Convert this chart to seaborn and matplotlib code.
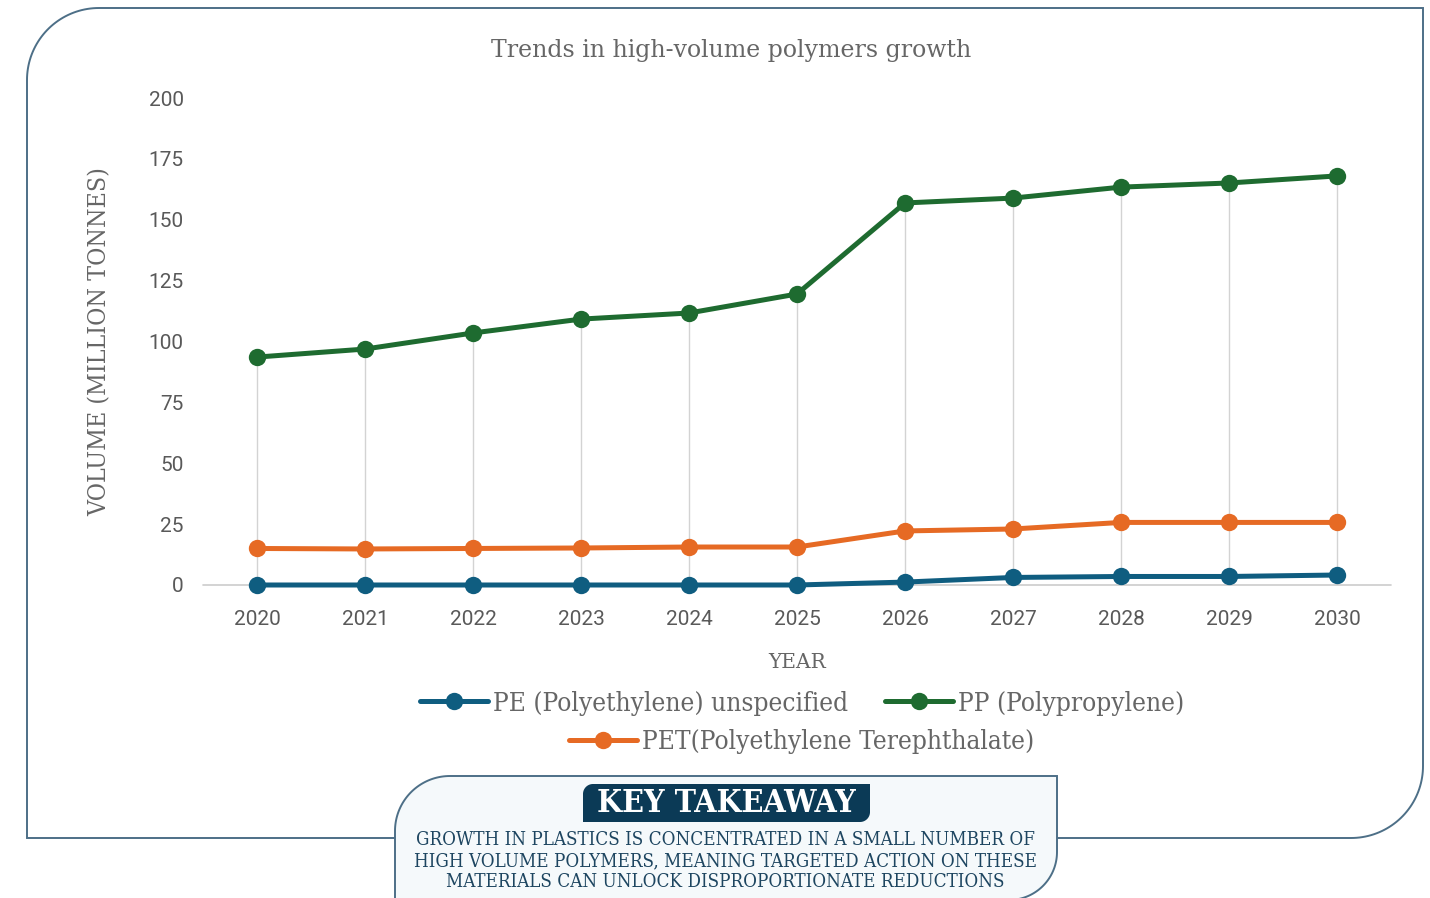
import numpy as np
import pandas as pd
import matplotlib.pyplot as plt
import seaborn as sns
from matplotlib.lines import Line2D
from matplotlib.patches import Polygon

# Données
years = [2020, 2021, 2022, 2023, 2024, 2025, 2026, 2027, 2028, 2029, 2030]
pe = [0, 0, 0, 0, 0, 0, 1.2, 3.1, 3.5, 3.5, 4.1]
pp = [93.6, 96.9, 103.5, 109.2, 111.7, 119.5, 156.9, 158.9, 163.4, 165.1, 168.0]
pet = [15.0, 14.8, 15.0, 15.2, 15.6, 15.6, 22.2, 23.0, 25.7, 25.7, 25.7]

series_names = ['PE (Polyethylene) unspecified', 'PP (Polypropylene)',
                'PET(Polyethylene Terephthalate)']
colors = ['#0f5d80', '#1e6b30', '#e66a24']
yticks = [0, 25, 50, 75, 100, 125, 150, 175, 200]

title = 'Trends in high-volume polymers growth'
takeaway = ('GROWTH IN PLASTICS IS CONCENTRATED IN A SMALL NUMBER OF\n'
            'HIGH VOLUME POLYMERS, MEANING TARGETED ACTION ON THESE\n'
            'MATERIALS CAN UNLOCK DISPROPORTIONATE REDUCTIONS')

df = pd.DataFrame({
    'year': years * 3,
    'value': pe + pp + pet,
    'series': [series_names[0]] * len(years) + [series_names[1]] * len(years)
              + [series_names[2]] * len(years),
})

W, H = 1430, 898
SERIF = 'DejaVu Serif'
EDGE = '#4d6f87'
GRAY = '#666666'

sns.set_theme(style='white')
fig = plt.figure(figsize=(W / 100, H / 100), dpi=100)


def fx(x):
    return x / W


def fy(y):
    return 1 - y / H


def corner_box(x0, y0, x1, y1, r_tl, r_br, n=40):
    # boîte avec coin haut-gauche et bas-droit arrondis (pixels, y vers le bas)
    pts = []
    a = np.linspace(np.pi, 1.5 * np.pi, n)
    pts += list(zip(x0 + r_tl + r_tl * np.cos(a), y0 + r_tl + r_tl * np.sin(a)))
    pts.append((x1, y0))
    a = np.linspace(0, 0.5 * np.pi, n)
    pts += list(zip(x1 - r_br + r_br * np.cos(a), y1 - r_br + r_br * np.sin(a)))
    pts.append((x0, y1))
    return [(fx(x), fy(y)) for x, y in pts]


def add_box(x0, y0, x1, y1, r_tl, r_br, fc, ec, z):
    p = Polygon(corner_box(x0, y0, x1, y1, r_tl, r_br), closed=True,
                facecolor=fc, edgecolor=ec if ec else 'none', lw=1.4,
                transform=fig.transFigure, zorder=z)
    fig.patches.append(p)


# cadre extérieur
add_box(27, 8, 1423, 838, 72, 72, 'white', EDGE, -1)

ax = fig.add_axes([fx(203), fy(585), (1391 - 203) / W, (585 - 98) / H])
ax.set_facecolor('none')

ax.vlines(years, 0, pp, color='#d3d3d3', lw=1, zorder=0)
ax.axhline(0, color='#cccccc', lw=1.2, zorder=0.5)

sns.lineplot(data=df, x='year', y='value', hue='series', palette=colors,
             hue_order=series_names, marker='o', markersize=12.5,
             markeredgewidth=0, linewidth=3.6, legend=False, ax=ax)
for line in ax.get_lines():
    line.set_clip_on(False)

ax.set_xlim(2019.5, 2030.5)
ax.set_ylim(0, 200)
ax.set_xticks(years)
ax.set_yticks(yticks)
ax.set_xticklabels([str(y) for y in years], fontfamily='Roboto', fontsize=15, color='#595959')
ax.set_yticklabels([str(v) for v in yticks], fontfamily='Roboto', fontsize=15, color='#595959')
ax.tick_params(length=0)
ax.tick_params(axis='x', pad=18)
ax.tick_params(axis='y', pad=14)
ax.set_xlabel('')
ax.set_ylabel('')
sns.despine(ax=ax, left=True, bottom=True)

fig.text(fx(731), fy(51), title, ha='center', va='center', fontfamily=SERIF,
         fontsize=17, color=GRAY)
fig.text(fx(100), fy(342), 'VOLUME (MILLION TONNES)', ha='center', va='center',
         rotation=90, fontfamily=SERIF, fontstretch='condensed', fontsize=17.8,
         color=GRAY)
fig.text(fx(797), fy(663), 'YEAR', ha='center', va='center', fontfamily=SERIF,
         fontsize=14.5, color=GRAY)

# légende sur deux lignes, centrée
handles = [Line2D([], [], color=c, lw=3.6, marker='o', markersize=12.5,
                  markeredgewidth=0) for c in colors]
leg_font = {'family': SERIF, 'size': 18.8, 'stretch': 'condensed'}
leg1 = fig.legend(handles[:2], series_names[:2], loc='center',
                  bbox_to_anchor=(fx(802), fy(703)), ncol=2, frameon=False,
                  prop=leg_font, handlelength=2.6, handletextpad=0.2,
                  columnspacing=1.4, labelcolor=GRAY)
leg2 = fig.legend(handles[2:], series_names[2:], loc='center',
                  bbox_to_anchor=(fx(802), fy(742)), frameon=False,
                  prop=leg_font, handlelength=2.6, handletextpad=0.2,
                  labelcolor=GRAY)

# encadré "key takeaway"
add_box(395, 776, 1057, 900, 55, 48, '#f5f9fb', EDGE, 2)
add_box(583, 784, 870, 822, 10, 10, '#0b3a56', None, 3)
fig.text(fx(726), fy(803), 'KEY TAKEAWAY', ha='center', va='center',
         fontfamily=SERIF, fontweight='bold', fontstretch='condensed',
         fontsize=23, color='white', zorder=4)
fig.text(fx(725), fy(861), takeaway, ha='center', va='center', linespacing=1.2,
         fontfamily=SERIF, fontstretch='condensed', fontsize=13.5,
         color='#1d4560', zorder=4)

fig.savefig('out.png', dpi=100)
